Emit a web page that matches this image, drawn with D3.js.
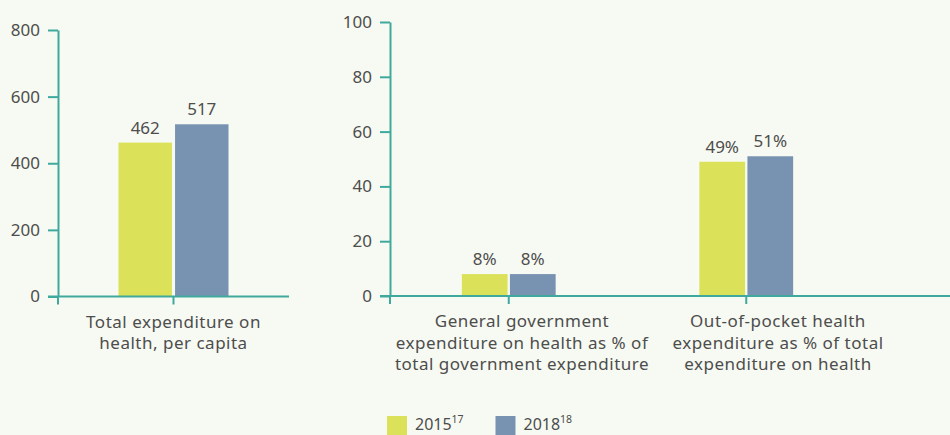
<!DOCTYPE html>
<html>
<head>
<meta charset="utf-8">
<script src="https://cdn.jsdelivr.net/npm/d3@7"></script>
<style>
  html, body { margin: 0; padding: 0; background: #f7faf2; }
  svg { display: block; font-family: "Noto Sans", sans-serif; }
  .tick text, .lbl, .cat, .leg { fill: #4d4d4d; }
</style>
</head>
<body>
<div id="chart"></div>
<script>
const series = ["2015", "2018"],
    seriesNotes = ["17", "18"],
    colors = ["#dbe25a", "#7893b1"];

// panel 1: per capita
const perCapitaCats = ["Total expenditure on health, per capita"],
    perCapitaLines = [["Total expenditure on", "health, per capita"]],
    perCapita2015 = [462],
    perCapita2018 = [517],
    perCapitaTicks = [0, 200, 400, 600, 800];

// panel 2: shares
const shareCats = ["gov", "oop"],
    shareLines = [
        ["General government", "expenditure on health as % of", "total government expenditure"],
        ["Out-of-pocket health", "expenditure as % of total", "expenditure on health"]
    ],
    share2015 = [8, 49],
    share2018 = [8, 51],
    shareTicks = [0, 20, 40, 60, 80, 100];

const axisColor = "#3fa99e";

const svg = d3.select("#chart").append("svg")
    .attr("width", 950)
    .attr("height", 435);

function drawPanel(o) {
    const g = svg.append("g");

    const y = d3.scaleLinear().domain([0, o.max]).range([o.y0, o.y1]);
    const x = d3.scaleBand().domain(o.cats).range(o.xRange);
    const xl = d3.scaleBand().domain(o.cats).range(o.labelRange);
    const xs = d3.scaleBand().domain(series).range([-o.barW - o.gap / 2, o.barW + o.gap / 2]).paddingInner(o.gap / (2 * o.barW + o.gap));

    // y axis
    const yAxis = g.append("g")
        .attr("transform", "translate(" + o.xRange[0] + ",0)")
        .call(d3.axisLeft(y).tickValues(o.ticks).tickSize(10).tickSizeOuter(0).tickPadding(8));
    yAxis.selectAll("path, line").attr("stroke", axisColor).attr("stroke-width", 2);
    yAxis.selectAll("text").attr("font-size", 17).attr("font-family", "Noto Sans");

    // bars
    const vals = [o.a, o.b];
    o.cats.forEach(function (c, i) {
        const cx = x(c) + x.bandwidth() / 2;
        series.forEach(function (s, j) {
            const v = vals[j][i];
            g.append("rect")
                .attr("x", cx + xs(s))
                .attr("y", y(v))
                .attr("width", xs.bandwidth())
                .attr("height", y(0) - y(v))
                .attr("fill", colors[j]);
            g.append("text")
                .attr("class", "lbl")
                .attr("x", cx + xs(s) + xs.bandwidth() / 2)
                .attr("y", y(v) - 9)
                .attr("text-anchor", "middle")
                .attr("font-size", 17)
                .text(v + o.suffix);
        });
    });

    // x axis
    g.append("line")
        .attr("x1", o.xRange[0] - 10).attr("x2", o.xEnd)
        .attr("y1", y(0)).attr("y2", y(0))
        .attr("stroke", axisColor).attr("stroke-width", 2);
    const tx = [o.xRange[0]].concat(o.cats.map(c => x(c) + x.bandwidth() / 2));
    g.selectAll(".xt").data(tx).enter().append("line")
        .attr("x1", d => d).attr("x2", d => d)
        .attr("y1", y(0)).attr("y2", y(0) + 8)
        .attr("stroke", axisColor).attr("stroke-width", 2);

    // category labels
    o.cats.forEach(function (c, i) {
        const t = g.append("text")
            .attr("class", "cat")
            .attr("text-anchor", "middle")
            .attr("font-size", 17)
            .attr("letter-spacing", 0.5)
            .attr("x", xl(c) + xl.bandwidth() / 2)
            .attr("y", y(0) + 31);
        o.lines[i].forEach(function (l, k) {
            t.append("tspan")
                .attr("x", xl(c) + xl.bandwidth() / 2)
                .attr("dy", k === 0 ? 0 : 21.5)
                .text(l);
        });
    });
}

drawPanel({
    cats: perCapitaCats, lines: perCapitaLines, a: perCapita2015, b: perCapita2018,
    ticks: perCapitaTicks, max: 800, y0: 296.5, y1: 30,
    xRange: [58, 289], labelRange: [58, 289], xEnd: 289,
    barW: 52, gap: 6, suffix: ""
});

drawPanel({
    cats: shareCats, lines: shareLines, a: share2015, b: share2018,
    ticks: shareTicks, max: 100, y0: 296, y1: 22,
    xRange: [390, 865], labelRange: [394, 906], xEnd: 950,
    barW: 44.6, gap: 4.6, suffix: "%"
});

// legend
const legend = svg.append("g").attr("transform", "translate(387,416)");
const lg = legend.selectAll(".legend").data(series).enter().append("g")
    .attr("transform", (d, i) => "translate(" + i * 108.5 + ",0)");
lg.append("rect")
    .attr("width", 20).attr("height", 20)
    .attr("fill", (d, i) => colors[i]);
const lt = lg.append("text")
    .attr("class", "leg")
    .attr("x", 28).attr("y", 14)
    .attr("font-size", 16);
lt.append("tspan").text(d => d);
lt.append("tspan").attr("dy", -7).attr("font-size", 10.5).text((d, i) => seriesNotes[i]);
</script>
</body>
</html>
